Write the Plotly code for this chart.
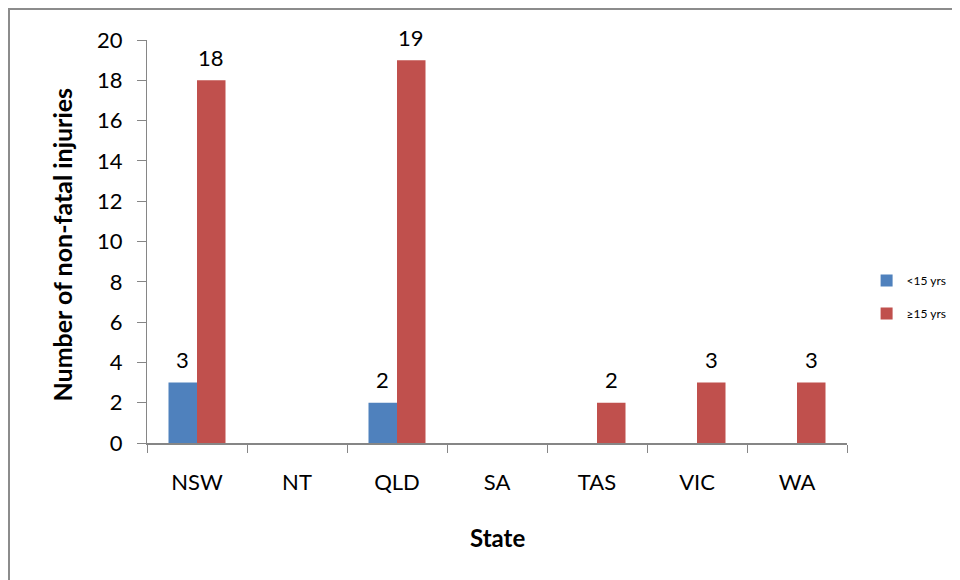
import plotly.graph_objects as go

states = ["NSW", "NT", "QLD", "SA", "TAS", "VIC", "WA"]
under15 = [3, 0, 2, 0, 0, 0, 0]
over15 = [18, 0, 19, 0, 2, 3, 3]
series_names = ["<15 yrs", "≥15 yrs"]
colors = ["#4F81BD", "#C0504D"]
y_ticks = [0, 2, 4, 6, 8, 10, 12, 14, 16, 18, 20]

FONT = "Lato, Carlito, Calibri, sans-serif"

# The page shows the figure offset by the body's 8px margin.
OFF = 8
L, T = 147 - OFF, 40 - OFF
PW, PH = 700, 403

fig = go.Figure()
for i, (name, vals, col) in enumerate(zip(series_names, [under15, over15], colors)):
    fig.add_trace(go.Bar(
        x=states, y=vals, name=name, marker=dict(color=col, line=dict(width=0)),
        legendgroup=f"g{i}", hoverinfo="x+y+name",
    ))

annotations = []
n_series = 2
bar_w_px = 28.5
for si, vals in enumerate([under15, over15]):
    shift = (si - (n_series - 1) / 2) * bar_w_px
    for ci, v in enumerate(vals):
        if v:
            annotations.append(dict(
                x=ci, y=v, xref="x", yref="y", text=str(v), showarrow=False,
                xshift=shift, yshift=23, yanchor="middle",
                font=dict(family=FONT, size=22, color="#000000"),
            ))

annotations.append(dict(
    x=(61 - 147) / PW, y=0.5, xref="paper", yref="paper",
    text="<b>Number of non-fatal injuries</b>",
    textangle=-90, showarrow=False, font=dict(family=FONT, size=25, color="#000000"),
    xanchor="center", yanchor="middle", yshift=-3,
))
annotations.append(dict(
    x=0.5, y=-0.235, xref="paper", yref="paper", text="<b>State</b>",
    showarrow=False, font=dict(family=FONT, size=24, color="#000000"),
    xanchor="center", yanchor="middle",
))

fig.update_layout(
    width=960, height=580,
    margin=dict(l=L, r=960 - L - PW, t=T, b=580 - T - PH, autoexpand=False),
    paper_bgcolor="white", plot_bgcolor="white",
    barmode="group", bargap=0.43, bargroupgap=0,
    font=dict(family=FONT, size=22, color="#000000"),
    showlegend=True,
    legend=dict(
        x=1.028, y=0.362, xanchor="left", yanchor="middle",
        font=dict(family=FONT, size=12, color="#000000"),
        tracegroupgap=14, bgcolor="rgba(0,0,0,0)", itemwidth=30,
    ),
    xaxis=dict(
        showline=True, linecolor="#868686", linewidth=2,
        ticks="outside", ticklen=8, tickcolor="#868686", tickwidth=1,
        tickson="boundaries", showgrid=False, zeroline=False,
        tickfont=dict(family=FONT, size=22, color="#000000"),
        ticklabelstandoff=19,
    ),
    yaxis=dict(
        range=[0, 20], tickvals=y_ticks, showline=True, linecolor="#868686", linewidth=1,
        ticks="outside", ticklen=9, tickcolor="#868686", tickwidth=1,
        showgrid=False, zeroline=False,
        tickfont=dict(family=FONT, size=22, color="#000000"),
        ticklabelstandoff=10,
    ),
    annotations=annotations,
    shapes=[dict(
        type="rect", xref="paper", yref="paper",
        x0=(9 - 147) / PW, x1=1.4, y0=-0.6, y1=(443 - 9) / PH,
        line=dict(color="#8C8C8C", width=2), fillcolor="rgba(0,0,0,0)", layer="below",
    )],
)

fig.write_html("out.html")
